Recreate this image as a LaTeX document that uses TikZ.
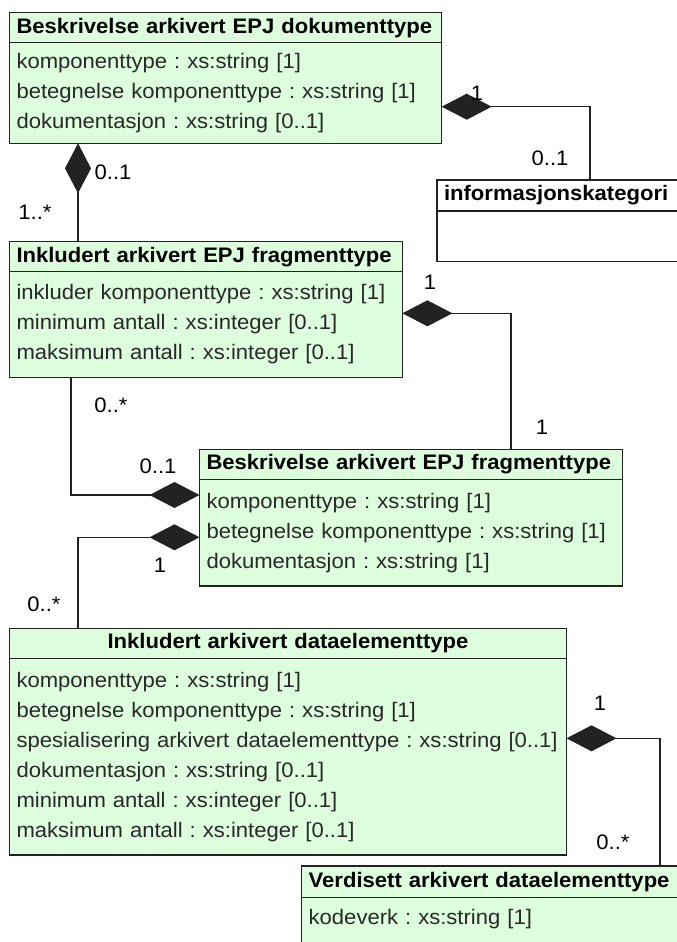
\documentclass[tikz,border=0pt]{standalone}
\usepackage{fontspec}
\setmainfont{Liberation Sans}[FakeStretch=1.05]
\frenchspacing
\usetikzlibrary{arrows.meta}
\definecolor{umlgreen}{RGB}{221,255,221}
\definecolor{umlline}{RGB}{34,34,34}
\definecolor{umltext}{RGB}{40,40,40}
\tikzstyle{classhead}=[draw=umlline,fill=umlgreen,line width=1.3pt,anchor=north west,outer sep=0pt,inner xsep=7pt,inner ysep=0pt,minimum height=30pt,align=left,font=\fontsize{21}{30}\selectfont\bfseries,text=black]
\tikzstyle{classbody}=[draw=umlline,fill=umlgreen,line width=1.3pt,anchor=north west,outer sep=0pt,inner xsep=7pt,inner ysep=0pt,align=left,font=\fontsize{21}{30}\selectfont,text=umltext]
\tikzstyle{mult}=[inner sep=0pt,font=\fontsize{21}{24}\selectfont,text=black]
\tikzstyle{comp}=[draw=umlline,line width=1.3pt,{Diamond[length=50pt,width=26pt]}-]

\begin{document}
\begin{tikzpicture}[x=1pt,y=-1pt]
\useasboundingbox (0,0) rectangle (677,942);

\node[classhead,minimum width=432.2pt,text width=418.2pt] (dok) at (9.5,12.7) {Beskrivelse arkivert EPJ dokumenttype};
\node[classbody,minimum width=432.2pt,text width=418.2pt,minimum height=100.6pt] (dokb) at (dok.south west) {komponenttype : xs:string [1]\\betegnelse komponenttype : xs:string [1]\\dokumentasjon : xs:string [0..1]};

\node[classhead,fill=white,minimum width=270pt,text width=256pt,minimum height=31pt] (info) at (437,180) {informasjonskategori};
\node[classbody,fill=white,minimum width=270pt,text width=256pt,minimum height=50.7pt] (infob) at (info.south west) {};

\node[classhead,minimum width=392.9pt,text width=378.9pt] (inkl) at (9.5,241.7) {Inkludert arkivert EPJ fragmenttype};
\node[classbody,minimum width=392.9pt,text width=378.9pt,minimum height=105.6pt] (inklb) at (inkl.south west) {inkluder komponenttype : xs:string [1]\\minimum antall : xs:integer [0..1]\\maksimum antall : xs:integer [0..1]};

\node[classhead,minimum width=423.1pt,text width=409.1pt] (frag) at (199.5,449.3) {Beskrivelse arkivert EPJ fragmenttype};
\node[classbody,minimum width=423.1pt,text width=409.1pt,minimum height=106.7pt] (fragb) at (frag.south west) {komponenttype : xs:string [1]\\betegnelse komponenttype : xs:string [1]\\dokumentasjon : xs:string [1]};

\node[classhead,align=center,minimum width=557pt,text width=543pt] (data) at (9.5,628.3) {Inkludert arkivert dataelementtype};
\node[classbody,minimum width=557pt,text width=543pt,minimum height=196.7pt] (datab) at (data.south west) {komponenttype : xs:string [1]\\betegnelse komponenttype : xs:string [1]\\spesialisering arkivert dataelementtype : xs:string [0..1]\\dokumentasjon : xs:string [0..1]\\minimum antall : xs:integer [0..1]\\maksimum antall : xs:integer [0..1]};

\node[classhead,minimum width=385pt,text width=371pt,minimum height=31.3pt] (verdi) at (301.7,866) {Verdisett arkivert dataelementtype};
\node[classbody,minimum width=385pt,text width=371pt,minimum height=62.7pt] (verdib) at (verdi.south west) {kodeverk : xs:string [1]\rule[-24pt]{0pt}{0pt}};

\coordinate (k1) at (590,106.7);
\coordinate (k2) at (78,200);
\coordinate (k3) at (511,313.3);
\coordinate (k4) at (71,495);
\coordinate (k5) at (78,537.3);
\coordinate (k6) at (660,738.3);

\draw[comp] (dokb.east |- k1) -- (k1) -- (info.north -| k1);
\draw[comp] (dokb.south -| k2) -- (inkl.north -| k2);
\draw[comp] (inklb.east |- k3) -- (k3) -- (frag.north -| k3);
\draw[comp] (fragb.west |- k4) -- (k4) -- (inklb.south -| k4);
\draw[comp] (fragb.west |- k5) -- (k5) -- (data.north -| k5);
\draw[comp] (datab.east |- k6) -- (k6) -- (verdi.north -| k6);

\node[mult] (m1) at (477,93) {1};
\node[mult] (m2) at (550,158) {0..1};
\node[mult] (m3) at (113,172) {0..1};
\node[mult] (m4) at (35,212) {1..*};
\node[mult] (m5) at (430,282) {1};
\node[mult] (m6) at (542,427) {1};
\node[mult] (m7) at (111,405) {0..*};
\node[mult] (m8) at (158,466) {0..1};
\node[mult] (m9) at (160,565) {1};
\node[mult] (m10) at (44,604) {0..*};
\node[mult] (m11) at (600,703) {1};
\node[mult] (m12) at (613,842) {0..*};

\end{tikzpicture}
\end{document}
